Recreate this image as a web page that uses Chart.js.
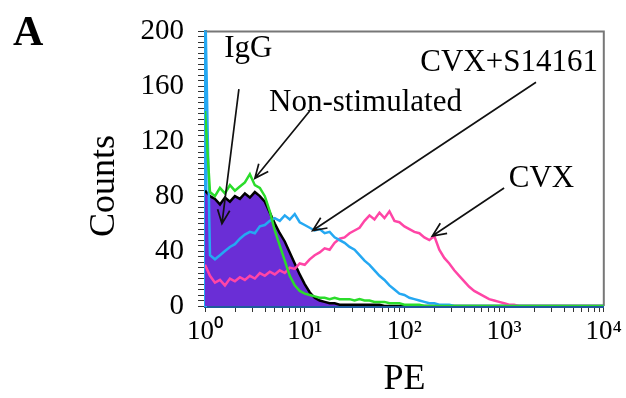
<!DOCTYPE html>
<html>
<head>
<meta charset="utf-8">
<script src="https://cdn.jsdelivr.net/npm/chart.js@4"></script>
<style>
  html, body { margin: 0; padding: 0; background: #fff; }
  canvas { display: block; }
</style>
</head>
<body>
<canvas id="chart" width="626" height="398"></canvas>
<script>
// PE channel positions, as log10 exponents (10^0 .. 10^4)
const peExponent = [0, 0.05, 0.1, 0.15, 0.2, 0.25, 0.3, 0.35, 0.4, 0.45,
  0.5, 0.55, 0.6, 0.65, 0.7, 0.75, 0.8, 0.85, 0.9, 0.95,
  1, 1.05, 1.1, 1.15, 1.2, 1.25, 1.3, 1.35, 1.4, 1.45,
  1.5, 1.55, 1.6, 1.65, 1.7, 1.75, 1.8, 1.85, 1.9, 1.95,
  2, 2.05, 2.1, 2.15, 2.2, 2.25, 2.3, 2.35, 2.4, 2.45,
  2.5, 2.55, 2.6, 2.65, 2.7, 2.75, 2.8, 2.85, 2.9, 2.95,
  3, 3.05, 3.1, 3.15, 3.2, 3.6, 4];

const countsIgG = [84, 80, 78, 74, 79, 76, 80, 78, 82, 79,
  83, 80, 76, 68, 60, 53, 47, 39, 31, 23,
  16, 10, 6, 4, 3, 2, 2, 1, 1, 1,
  1, 1, 1, 1, 1, 1, 0, 0, 0, 0,
  0, 0, 0, 0, 0, 0, 0, 0, 0, 0,
  0, 0, 0, 0, 0, 0, 0, 0, 0, 0,
  0, 0, 0, 0, 0, 0, 0];

const countsNonStim = [142, 83, 80, 86, 82, 88, 84, 87, 90, 96,
  88, 86, 80, 69, 55, 44, 33, 22, 15, 11,
  9, 8, 7, 6, 6, 5, 6, 5, 5, 5,
  4, 5, 4, 4, 3, 3, 3, 2, 2, 2,
  1, 1, 1, 1, 0, 0, 0, 0, 0, 0,
  0, 0, 0, 0, 0, 0, 0, 0, 0, 0,
  0, 0, 0, 0, 0, 0, 0];

const countsCvxS14161 = [230, 37, 34, 37, 40, 43, 45, 49, 52, 54,
  53, 58, 59, 62, 64, 62, 66, 63, 67, 61,
  59, 57, 55, 56, 53, 54, 50, 48, 46, 43,
  41, 37, 33, 30, 26, 22, 19, 15, 12, 9,
  8, 6, 5, 4, 3, 2, 2, 1, 1, 1,
  0, 0, 0, 0, 0, 0, 0, 0, 0, 0,
  0, 0, 0, 0, 0, 0, 0];

const countsCvx = [30, 22, 17, 19, 15, 20, 18, 21, 19, 22,
  20, 24, 22, 25, 23, 26, 24, 28, 27, 31,
  30, 34, 37, 39, 42, 41, 46, 49, 50, 53,
  55, 57, 62, 66, 63, 68, 64, 69, 62, 61,
  58, 56, 54, 53, 50, 48, 51, 41, 35, 31,
  26, 22, 18, 14, 11, 9, 7, 5, 4, 3,
  2, 1, 1, 0, 0, 0, 0];

// x ticks: decades plus minor log ticks
const decades = [0, 1, 2, 3, 4];
const minorSteps = [2, 3, 4, 5, 6, 7, 8, 9];
const superDigits = ['\u2070', '\u00B9', '\u00B2', '\u00B3', '\u2074'];

// labels with arrows, in data units (exponent, count)
const labels = [
  { text: 'IgG', at: [0.435, 181], from: [0.34, 158], to: [0.17, 60] },
  { text: 'Non-stimulated', at: [1.61, 142], from: [1.05, 142], to: [0.5, 93] },
  { text: 'CVX+S14161', at: [3.05, 171], from: [3.32, 163], to: [1.08, 55] },
  { text: 'CVX', at: [3.375, 87], from: [3.0, 86], to: [2.28, 51] }
];

const serif = "'Liberation Serif', 'Times New Roman', serif";

function toPoints(values) {
  return values.map((v, i) => ({ x: peExponent[i], y: v }));
}

function drawArrow(ctx, x1, y1, x2, y2) {
  const a = Math.atan2(y2 - y1, x2 - x1);
  const h = 15;
  ctx.beginPath();
  ctx.moveTo(x1, y1);
  ctx.lineTo(x2, y2);
  ctx.moveTo(x2 - h * Math.cos(a - 0.42), y2 - h * Math.sin(a - 0.42));
  ctx.lineTo(x2, y2);
  ctx.lineTo(x2 - h * Math.cos(a + 0.42), y2 - h * Math.sin(a + 0.42));
  ctx.stroke();
}

const annotationPlugin = {
  id: 'annotations',
  beforeDatasetsDraw(chart) {
    // grey frame on top and right of the plot
    const { ctx, chartArea } = chart;
    ctx.save();
    ctx.strokeStyle = '#777';
    ctx.lineWidth = 2;
    ctx.beginPath();
    ctx.moveTo(chartArea.left, chartArea.top);
    ctx.lineTo(chartArea.right, chartArea.top);
    ctx.lineTo(chartArea.right, chartArea.bottom);
    ctx.stroke();
    ctx.restore();
  },
  afterDraw(chart) {
    const { ctx } = chart;
    const xs = chart.scales.x;
    const ys = chart.scales.y;
    ctx.save();
    ctx.fillStyle = '#000';
    ctx.strokeStyle = '#111';
    ctx.lineWidth = 1.7;
    ctx.font = '31px ' + serif;
    ctx.textAlign = 'center';
    ctx.textBaseline = 'alphabetic';
    labels.forEach(l => {
      ctx.fillText(l.text, xs.getPixelForValue(l.at[0]), ys.getPixelForValue(l.at[1]));
      drawArrow(ctx,
        xs.getPixelForValue(l.from[0]), ys.getPixelForValue(l.from[1]),
        xs.getPixelForValue(l.to[0]), ys.getPixelForValue(l.to[1]));
    });

    // panel letter
    ctx.font = 'bold 42px ' + serif;
    ctx.textAlign = 'left';
    ctx.fillText('A', 13, 45);

    // y axis title
    ctx.font = '36px ' + serif;
    ctx.textAlign = 'center';
    ctx.textBaseline = 'middle';
    ctx.translate(105, 186);
    ctx.rotate(-Math.PI / 2);
    ctx.fillText('Counts', 0, 0);
    ctx.restore();
  }
};

const ctx = document.getElementById('chart').getContext('2d');

new Chart(ctx, {
  type: 'line',
  data: {
    datasets: [
      {
        label: 'Non-stimulated',
        data: toPoints(countsNonStim),
        borderColor: '#2bdc2b',
        borderWidth: 2.5,
        order: 1
      },
      {
        label: 'CVX+S14161',
        data: toPoints(countsCvxS14161),
        borderColor: '#25a8f2',
        borderWidth: 2.5,
        order: 2
      },
      {
        label: 'CVX',
        data: toPoints(countsCvx),
        borderColor: '#ff45a6',
        borderWidth: 2.5,
        order: 3
      },
      {
        label: 'IgG',
        data: toPoints(countsIgG),
        borderColor: '#000',
        backgroundColor: '#6a2ed6',
        borderWidth: 2.5,
        fill: 'origin',
        order: 4
      }
    ]
  },
  options: {
    responsive: false,
    animation: false,
    layout: { padding: { left: 0, top: 20, right: 21, bottom: 0 } },
    elements: { point: { radius: 0 }, line: { tension: 0 } },
    plugins: {
      legend: { display: false },
      tooltip: { enabled: false }
    },
    scales: {
      x: {
        type: 'linear',
        min: 0,
        max: 4,
        afterBuildTicks: scale => {
          const t = [];
          decades.forEach(d => {
            t.push({ value: d });
            if (d < 4) minorSteps.forEach(k => t.push({ value: d + Math.log10(k) }));
          });
          scale.ticks = t;
        },
        afterFit: scale => { scale.height = 92; },
        ticks: {
          autoSkip: false,
          maxRotation: 0,
          padding: 4,
          color: '#000',
          font: { family: serif, size: 27 },
          callback: v => {
            const r = Math.round(v);
            return Math.abs(v - r) < 1e-9 ? '10' + superDigits[r] : '';
          }
        },
        grid: { drawOnChartArea: false, tickLength: 6, tickColor: '#333' },
        border: { color: '#1f5a9c', width: 3 },
        title: {
          display: true,
          text: 'PE',
          color: '#000',
          font: { family: serif, size: 36, lineHeight: 1 },
          padding: { top: 0, bottom: 0 }
        }
      },
      y: {
        min: 0,
        max: 200,
        afterBuildTicks: scale => {
          const t = [];
          for (let v = 0; v <= 200; v += 4) t.push({ value: v });
          scale.ticks = t;
        },
        afterFit: scale => { scale.width = 205; },
        ticks: {
          autoSkip: false,
          padding: 14,
          color: '#000',
          font: { family: serif, size: 29 },
          callback: v => (v % 40 === 0 ? String(v) : '')
        },
        grid: { drawOnChartArea: false, tickLength: 7, tickColor: '#333' },
        border: { color: '#25a8f2', width: 3 }
      }
    }
  },
  plugins: [annotationPlugin]
});
</script>
</body>
</html>
